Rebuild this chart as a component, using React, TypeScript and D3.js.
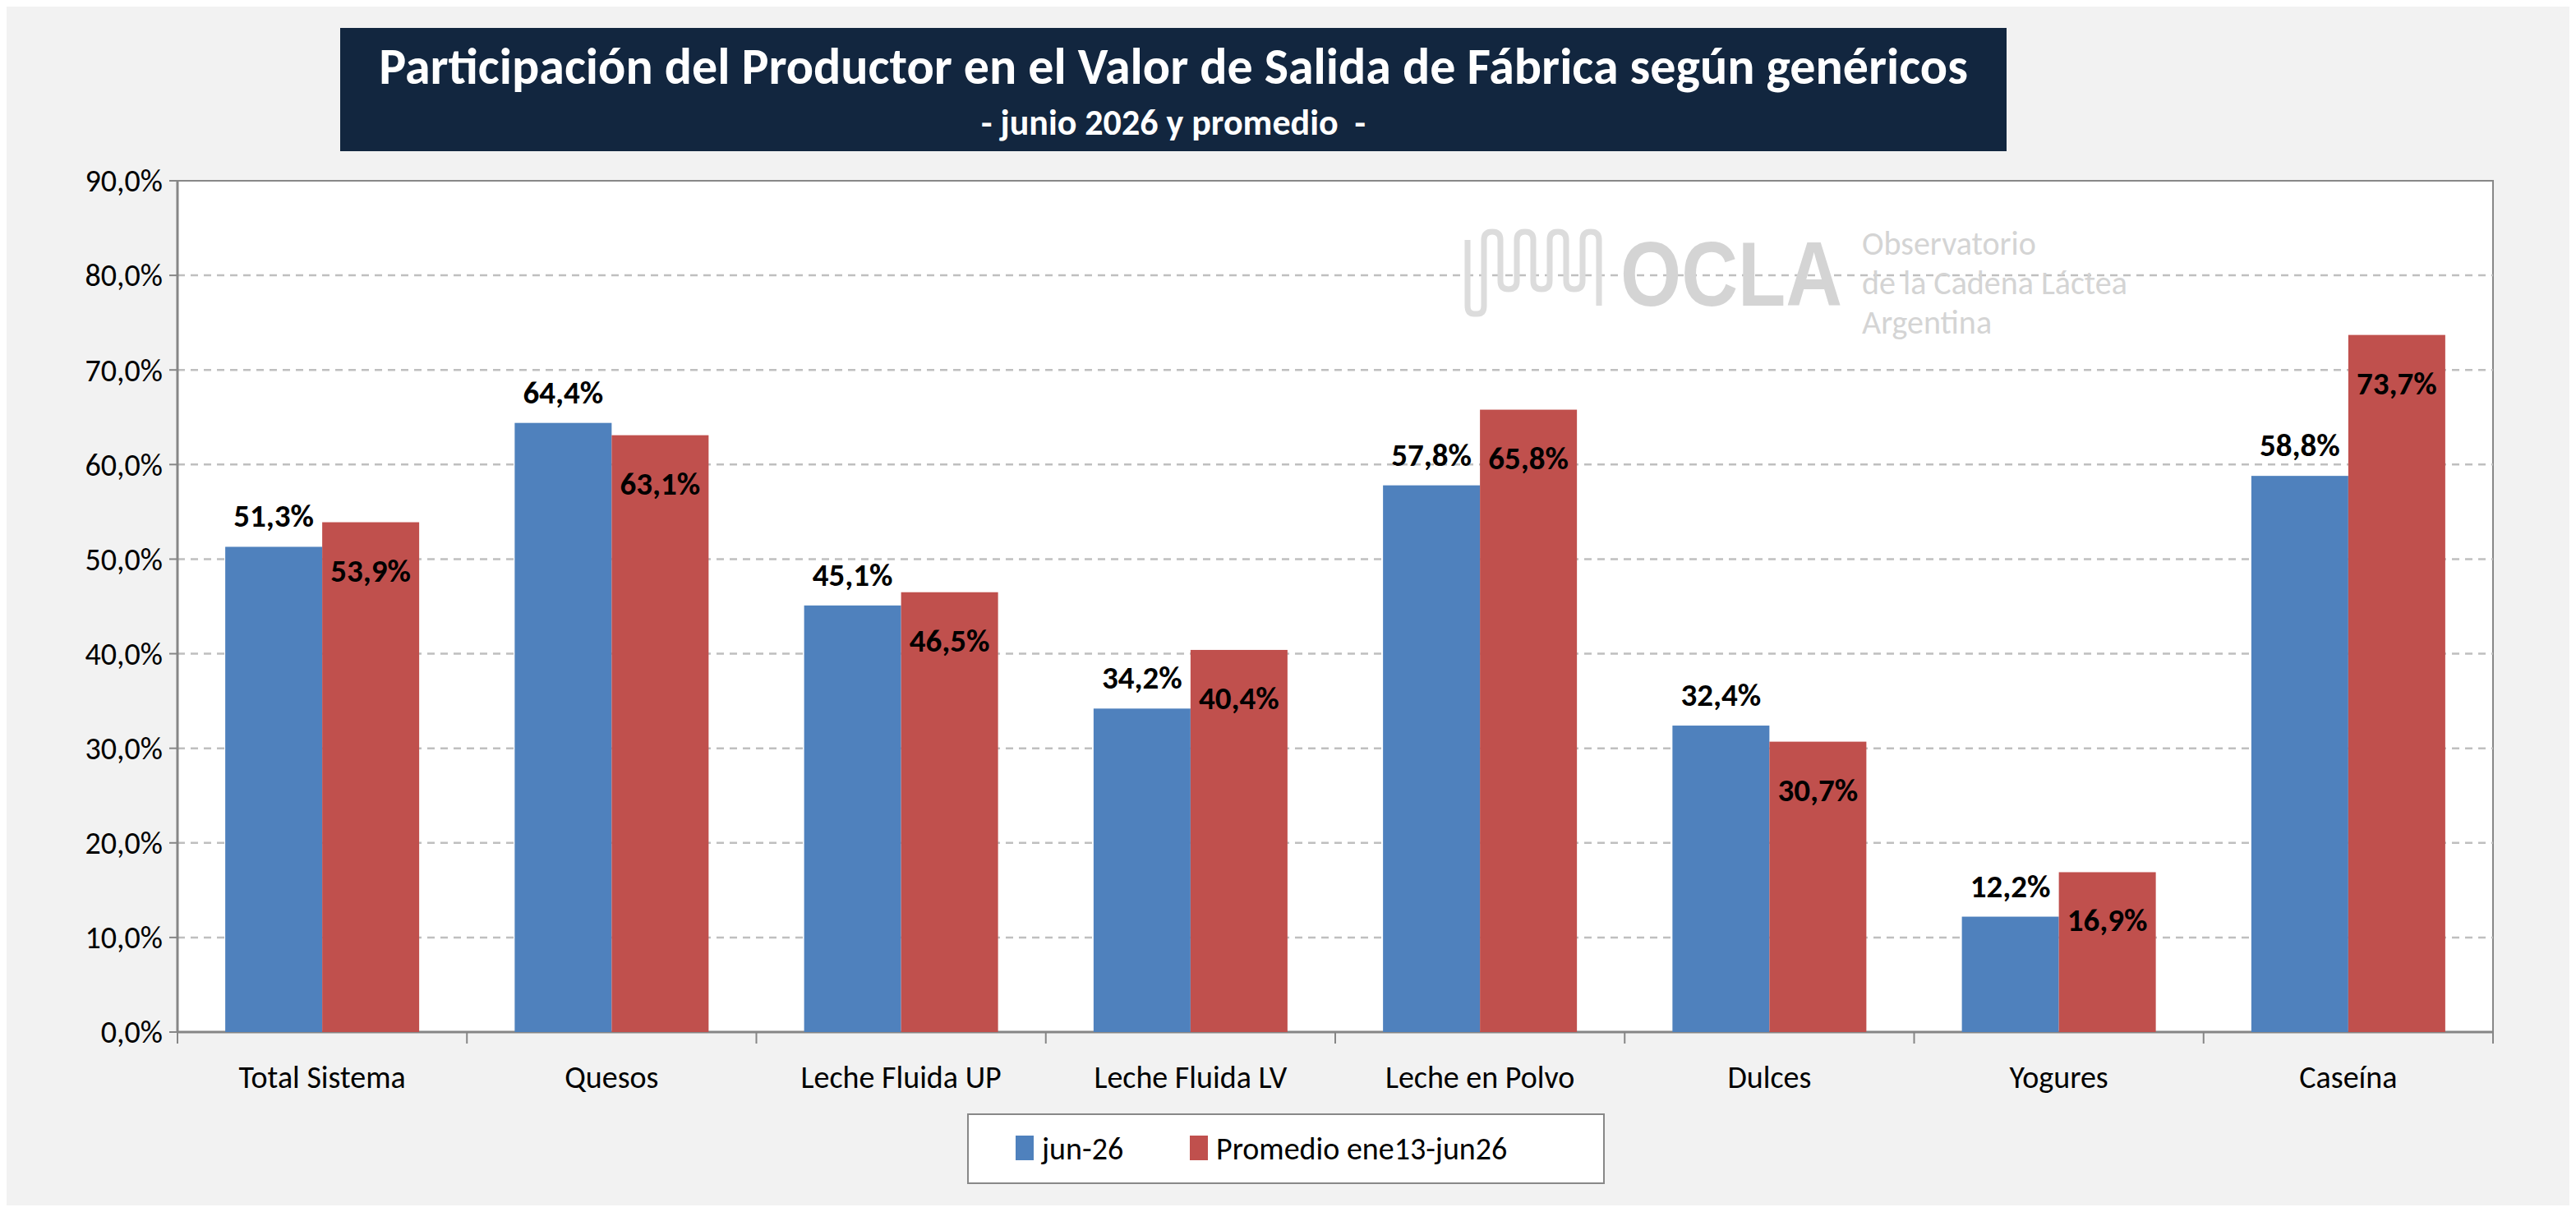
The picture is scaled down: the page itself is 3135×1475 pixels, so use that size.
import React, { useEffect, useRef } from 'react';
import * as d3 from 'd3';

const categories = ['Total Sistema', 'Quesos', 'Leche Fluida UP', 'Leche Fluida LV', 'Leche en Polvo', 'Dulces', 'Yogures', 'Caseína'];
const junValues = [51.3, 64.4, 45.1, 34.2, 57.8, 32.4, 12.2, 58.8];
const promValues = [53.9, 63.1, 46.5, 40.4, 65.8, 30.7, 16.9, 73.7];
const seriesNames = ['jun-26', 'Promedio ene13-jun26'];
const yTicks = [0, 10, 20, 30, 40, 50, 60, 70, 80, 90];

const W = 3135;
const H = 1475;
const FONT = "Carlito, 'Open Sans', 'Liberation Sans', sans-serif";
const BLUE = '#4f81bd';
const RED = '#c0504d';

const fmt = (v: number) => v.toFixed(1).replace('.', ',');

const App: React.FC = () => {
    const ref = useRef<SVGSVGElement>(null);

    useEffect(() => {
        if (!ref.current) return;
        const svg = d3.select(ref.current);
        svg.selectAll('*').remove();

        const plot = { left: 216, right: 3034, top: 220, bottom: 1256 };

        // fondo y borde
        svg.append('rect').attr('x', 0).attr('y', 0).attr('width', W).attr('height', H).attr('fill', '#f2f2f2');
        svg.append('rect').attr('x', 4).attr('y', 4).attr('width', W - 10).attr('height', H - 10)
            .attr('fill', 'none').attr('stroke', '#7f7f7f').attr('stroke-width', 3);

        svg.append('rect').attr('x', plot.left).attr('y', plot.top)
            .attr('width', plot.right - plot.left).attr('height', plot.bottom - plot.top)
            .attr('fill', '#ffffff').attr('stroke', '#888').attr('stroke-width', 2);

        const x = d3.scaleBand().domain(categories).range([plot.left, plot.right]).paddingInner(0).paddingOuter(0);
        const y = d3.scaleLinear().domain([0, 90]).range([plot.bottom, plot.top]);

        // grilla
        svg.append('g').selectAll('line').data(yTicks.slice(1, -1)).enter().append('line')
            .attr('x1', plot.left).attr('x2', plot.right)
            .attr('y1', (d) => y(d)).attr('y2', (d) => y(d))
            .attr('stroke', '#bfbfbf').attr('stroke-width', 2.5).attr('stroke-dasharray', '9,7');

        // logo
        const logo = svg.append('g').attr('transform', 'translate(1786,372)').attr('fill', '#d4d4d4');
        const wave = 'M0,-80 L0,0 Q0,10 8,10 L12,10 Q20,10 20,0 L20,-80 Q20,-90 30,-90 Q40,-90 40,-80 L40,-30 Q40,-20 50,-20 Q60,-20 60,-30 L60,-80 Q60,-90 70,-90 Q80,-90 80,-80 L80,-30 Q80,-20 90,-20 Q100,-20 100,-30 L100,-80 Q100,-90 110,-90 Q120,-90 120,-80 L120,-30 Q120,-20 130,-20 Q140,-20 140,-30 L140,-80 Q140,-90 150,-90 Q160,-90 160,-80 L160,0';
        logo.append('path').attr('d', wave).attr('fill', 'none').attr('stroke', '#dcdcdc').attr('stroke-width', 7);
        logo.append('text').attr('x', 186).attr('y', 0).attr('font-family', "'Liberation Sans', sans-serif")
            .attr('font-weight', 'bold').attr('font-size', 112).attr('textLength', 270).attr('lengthAdjust', 'spacingAndGlyphs')
            .text('OCLA');
        logo.append('text').attr('x', 480).attr('y', -62).attr('font-family', FONT).attr('font-size', 40).text('Observatorio');
        logo.append('text').attr('x', 480).attr('y', -14).attr('font-family', FONT).attr('font-size', 40).text('de la Cadena Láctea');
        logo.append('text').attr('x', 480).attr('y', 34).attr('font-family', FONT).attr('font-size', 40).text('Argentina');

        // ejes
        svg.append('line').attr('x1', plot.left).attr('x2', plot.right).attr('y1', plot.bottom).attr('y2', plot.bottom)
            .attr('stroke', '#868686').attr('stroke-width', 3);
        svg.append('line').attr('x1', plot.left).attr('x2', plot.left).attr('y1', plot.top).attr('y2', plot.bottom)
            .attr('stroke', '#868686').attr('stroke-width', 3);
        svg.append('g').selectAll('line').data(yTicks).enter().append('line')
            .attr('x1', plot.left - 10).attr('x2', plot.left).attr('y1', (d) => y(d)).attr('y2', (d) => y(d))
            .attr('stroke', '#868686').attr('stroke-width', 2);
        svg.append('g').selectAll('line').data(d3.range(categories.length + 1)).enter().append('line')
            .attr('x1', (i) => plot.left + i * x.step()).attr('x2', (i) => plot.left + i * x.step())
            .attr('y1', plot.bottom).attr('y2', plot.bottom + 14)
            .attr('stroke', '#868686').attr('stroke-width', 2);

        svg.append('g').selectAll('text').data(yTicks).enter().append('text')
            .attr('x', plot.left - 18).attr('y', (d) => y(d)).attr('dy', '0.35em')
            .attr('text-anchor', 'end').attr('font-family', FONT).attr('font-size', 38).attr('fill', '#000')
            .text((d) => fmt(d) + '%');

        svg.append('g').selectAll('text').data(categories).enter().append('text')
            .attr('x', (d) => (x(d) as number) + x.bandwidth() / 2).attr('y', 1324)
            .attr('text-anchor', 'middle').attr('font-family', FONT).attr('font-size', 38).text((d) => d);

        // barras
        const barW = 118;
        const cx = (i: number) => (x(categories[i]) as number) + x.bandwidth() / 2;

        const bars = svg.append('g');
        junValues.forEach((v, i) => {
            bars.append('rect').attr('x', cx(i) - barW).attr('y', y(v)).attr('width', barW)
                .attr('height', y(0) - y(v)).attr('fill', BLUE);
            bars.append('text').attr('x', cx(i) - barW / 2).attr('y', y(v) - 24)
                .attr('text-anchor', 'middle').attr('font-family', FONT).attr('font-weight', 'bold')
                .attr('font-size', 39).text(fmt(v) + '%');
        });
        promValues.forEach((v, i) => {
            bars.append('rect').attr('x', cx(i)).attr('y', y(v)).attr('width', barW)
                .attr('height', y(0) - y(v)).attr('fill', RED);
            bars.append('text').attr('x', cx(i) + barW / 2).attr('y', y(v) + 72)
                .attr('text-anchor', 'middle').attr('font-family', FONT).attr('font-weight', 'bold')
                .attr('font-size', 39).text(fmt(v) + '%');
        });

        // título
        svg.append('rect').attr('x', 414).attr('y', 34).attr('width', 2028).attr('height', 150).attr('fill', '#12263f');
        svg.append('text').attr('x', 1428).attr('y', 102).attr('text-anchor', 'middle').attr('fill', '#fff')
            .attr('font-family', FONT).attr('font-weight', 'bold').attr('font-size', 62)
            .text('Participación del Productor en el Valor de Salida de Fábrica según genéricos');
        svg.append('text').attr('x', 1428).attr('y', 164).attr('text-anchor', 'middle').attr('fill', '#fff')
            .attr('font-family', FONT).attr('font-weight', 'bold').attr('font-size', 44)
            .attr('xml:space', 'preserve')
            .text('- junio 2026 y promedio  -');

        // leyenda
        const lg = svg.append('g');
        lg.append('rect').attr('x', 1178).attr('y', 1356).attr('width', 774).attr('height', 84)
            .attr('fill', '#fff').attr('stroke', '#888').attr('stroke-width', 2);
        const items = [{ x: 1236, c: BLUE }, { x: 1448, c: RED }];
        items.forEach((it, i) => {
            lg.append('rect').attr('x', it.x).attr('y', 1382).attr('width', 22).attr('height', 30).attr('fill', it.c);
            lg.append('text').attr('x', it.x + 32).attr('y', 1398).attr('dy', '0.35em')
                .attr('font-family', FONT).attr('font-size', 38).text(seriesNames[i]);
        });
    }, []);

    return <svg ref={ref} width={W} height={H} style={{ display: 'block', margin: -8 }} />;
};

export default App;
